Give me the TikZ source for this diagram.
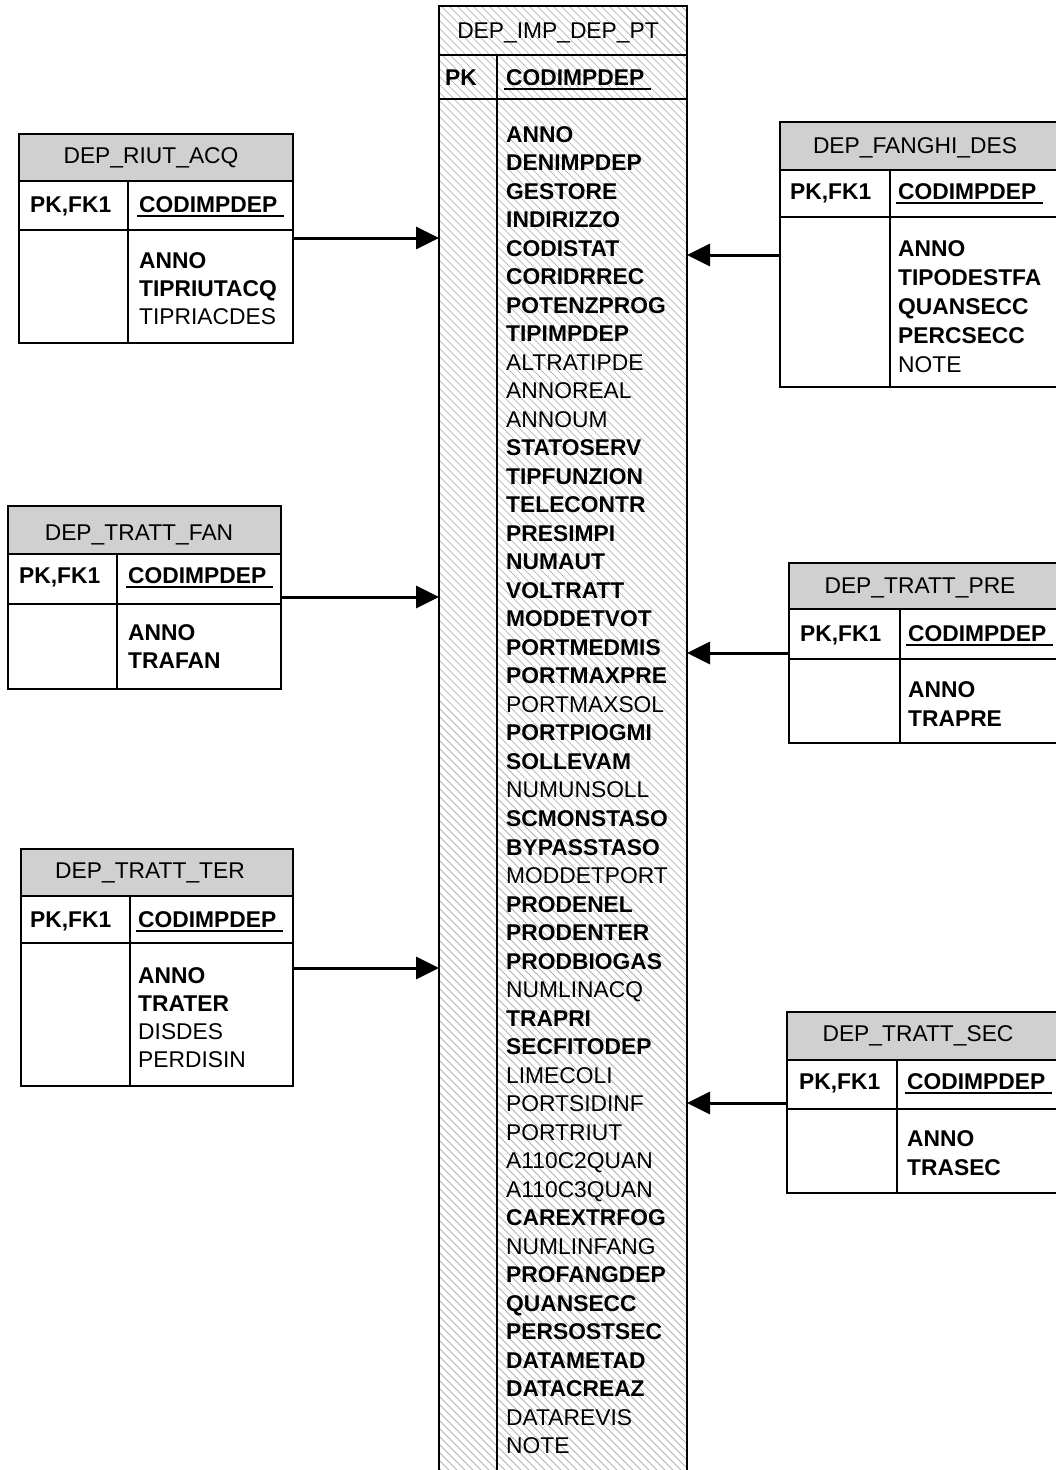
\documentclass[tikz,border=0pt]{standalone}
\usepackage{fontspec}
\setmainfont{Liberation Sans}
\usetikzlibrary{arrows.meta}
\definecolor{hdrgray}{RGB}{208,208,208}
\newcommand\erfont{\fontsize{22.8}{28.5}\selectfont}
\tikzset{
  tbl/.style={draw=black, line width=1.5pt},
  title/.style={anchor=base, inner sep=0pt, font=\erfont},
  keyb/.style={anchor=base west, inner sep=0pt, font=\erfont\bfseries},
  fldb/.style={anchor=base west, inner sep=0pt, font=\erfont\bfseries},
  fldn/.style={anchor=base west, inner sep=0pt, font=\erfont},
  uline/.style={line width=2.5pt},
  fk/.style={line width=3pt, -{Triangle[length=23pt, width=22pt]}},
  hatch/.style={gray!70, line width=0.7pt},
}
% table frame: name, x left, x right, y top, y header, y key row, y bottom, x divider
\newcommand\entbox[8]{%
  \draw[tbl, fill=hdrgray] (#2,#4) rectangle (#3,#5);
  \draw[tbl] (#2,#5) rectangle (#3,#7) (#2,#6) -- (#3,#6) (#8,#5) -- (#8,#7);
  \coordinate (#1) at (#2,#4);
}

\begin{document}
\begin{tikzpicture}[x=1pt, y=-1pt]
  \useasboundingbox (0,0) rectangle (1056,1470);
  \clip (0,0) rectangle (1056,1470);

  % central table
  \node[minimum width=248pt, minimum height=1480pt, anchor=north west, inner sep=0pt, outer sep=0pt] (main) at (439,6) {};
  \begin{scope}
    \clip (main.north west) rectangle (main.south east);
    \foreach \k in {-260,-252,...,1490}
      \draw[hatch] (439,\k) -- ++(260,260);
  \end{scope}
  \draw[tbl] (main.north west) rectangle (main.south east)
    (439,55) -- (687,55) (439,99) -- (687,99) (497,55) -- (497,1486);
  \node[title] (maintitle) at (558,38) {DEP\_IMP\_DEP\_PT};
  \node[keyb] (mainpk) at (445,85) {PK};
  \node[keyb] (mainkey) at (506,85) {CODIMPDEP};
  \draw[uline] ([xshift=-2pt, yshift=-4pt]mainkey.base west) -- ++(147,0);
  \foreach \fw/\fld [count=\i] in {b/ANNO, b/DENIMPDEP, b/GESTORE, b/INDIRIZZO, b/CODISTAT,
      b/CORIDRREC, b/POTENZPROG, b/TIPIMPDEP, n/ALTRATIPDE, n/ANNOREAL, n/ANNOUM,
      b/STATOSERV, b/TIPFUNZION, b/TELECONTR, b/PRESIMPI, b/NUMAUT, b/VOLTRATT,
      b/MODDETVOT, b/PORTMEDMIS, b/PORTMAXPRE, n/PORTMAXSOL, b/PORTPIOGMI, b/SOLLEVAM,
      n/NUMUNSOLL, b/SCMONSTASO, b/BYPASSTASO, n/MODDETPORT, b/PRODENEL, b/PRODENTER,
      b/PRODBIOGAS, n/NUMLINACQ, b/TRAPRI, b/SECFITODEP, n/LIMECOLI, n/PORTSIDINF,
      n/PORTRIUT, n/A110C2QUAN, n/A110C3QUAN, b/CAREXTRFOG, n/NUMLINFANG, b/PROFANGDEP,
      b/QUANSECC, b/PERSOSTSEC, b/DATAMETAD, b/DATACREAZ, n/DATAREVIS, n/NOTE}
    \node[fld\fw] (main\i) at (506,{142+(\i-1)*28.52}) {\fld};

  % DEP_RIUT_ACQ
  \entbox{riut}{19}{293}{134}{181}{230}{343}{128}
  \node[title] (riuttitle) at (151,163) {DEP\_RIUT\_ACQ};
  \node[keyb] (riutpk) at (30,212) {PK,FK1};
  \node[keyb] (riutkey) at (139,212) {CODIMPDEP};
  \draw[uline] ([xshift=-2pt, yshift=-4pt]riutkey.base west) -- ++(147,0);
  \foreach \fw/\fld [count=\i] in {b/ANNO, b/TIPRIUTACQ, n/TIPRIACDES}
    \node[fld\fw] (riut\i) at (139,{268+(\i-1)*28.3}) {\fld};

  % DEP_TRATT_FAN
  \entbox{fan}{8}{281}{506}{554}{604}{689}{117}
  \node[title] (fantitle) at (139,540) {DEP\_TRATT\_FAN};
  \node[keyb] (fanpk) at (19,583) {PK,FK1};
  \node[keyb] (fankey) at (128,583) {CODIMPDEP};
  \draw[uline] ([xshift=-2pt, yshift=-4pt]fankey.base west) -- ++(147,0);
  \foreach \fw/\fld [count=\i] in {b/ANNO, b/TRAFAN}
    \node[fld\fw] (fan\i) at (128,{640+(\i-1)*28.3}) {\fld};

  % DEP_TRATT_TER
  \entbox{ter}{21}{293}{849}{896}{943}{1086}{130}
  \node[title] (tertitle) at (150,878) {DEP\_TRATT\_TER};
  \node[keyb] (terpk) at (30,927) {PK,FK1};
  \node[keyb] (terkey) at (138,927) {CODIMPDEP};
  \draw[uline] ([xshift=-2pt, yshift=-4pt]terkey.base west) -- ++(147,0);
  \foreach \fw/\fld [count=\i] in {b/ANNO, b/TRATER, n/DISDES, n/PERDISIN}
    \node[fld\fw] (ter\i) at (138,{983+(\i-1)*28.3}) {\fld};

  % DEP_FANGHI_DES
  \entbox{fanghi}{780}{1060}{122}{170}{217}{387}{890}
  \node[title] (fanghititle) at (915,153) {DEP\_FANGHI\_DES};
  \node[keyb] (fanghipk) at (790,199) {PK,FK1};
  \node[keyb] (fanghikey) at (898,199) {CODIMPDEP};
  \draw[uline] ([xshift=-2pt, yshift=-4pt]fanghikey.base west) -- ++(147,0);
  \foreach \fw/\fld [count=\i] in {b/ANNO, b/TIPODESTFA, b/QUANSECC, b/PERCSECC, n/NOTE}
    \node[fld\fw] (fanghi\i) at (898,{256+(\i-1)*29}) {\fld};

  % DEP_TRATT_PRE
  \entbox{pre}{789}{1060}{563}{609}{659}{743}{900}
  \node[title] (pretitle) at (920,593) {DEP\_TRATT\_PRE};
  \node[keyb] (prepk) at (800,641) {PK,FK1};
  \node[keyb] (prekey) at (908,641) {CODIMPDEP};
  \draw[uline] ([xshift=-2pt, yshift=-4pt]prekey.base west) -- ++(147,0);
  \foreach \fw/\fld [count=\i] in {b/ANNO, b/TRAPRE}
    \node[fld\fw] (pre\i) at (908,{697+(\i-1)*29}) {\fld};

  % DEP_TRATT_SEC
  \entbox{sec}{787}{1060}{1012}{1060}{1109}{1193}{897}
  \node[title] (sectitle) at (918,1041) {DEP\_TRATT\_SEC};
  \node[keyb] (secpk) at (799,1089) {PK,FK1};
  \node[keyb] (seckey) at (907,1089) {CODIMPDEP};
  \draw[uline] ([xshift=-2pt, yshift=-4pt]seckey.base west) -- ++(147,0);
  \foreach \fw/\fld [count=\i] in {b/ANNO, b/TRASEC}
    \node[fld\fw] (sec\i) at (907,{1146+(\i-1)*29}) {\fld};

  % references
  \coordinate (riutfk) at (293,238);
  \coordinate (fanfk) at (281,597);
  \coordinate (terfk) at (293,968);
  \coordinate (fanghifk) at (780,255);
  \coordinate (prefk) at (789,653);
  \coordinate (secfk) at (787,1103);
  \draw[fk] (riutfk) -- (riutfk -| main.west);
  \draw[fk] (fanfk) -- (fanfk -| main.west);
  \draw[fk] (terfk) -- (terfk -| main.west);
  \draw[fk] (fanghifk) -- (fanghifk -| main.east);
  \draw[fk] (prefk) -- (prefk -| main.east);
  \draw[fk] (secfk) -- (secfk -| main.east);
\end{tikzpicture}
\end{document}
